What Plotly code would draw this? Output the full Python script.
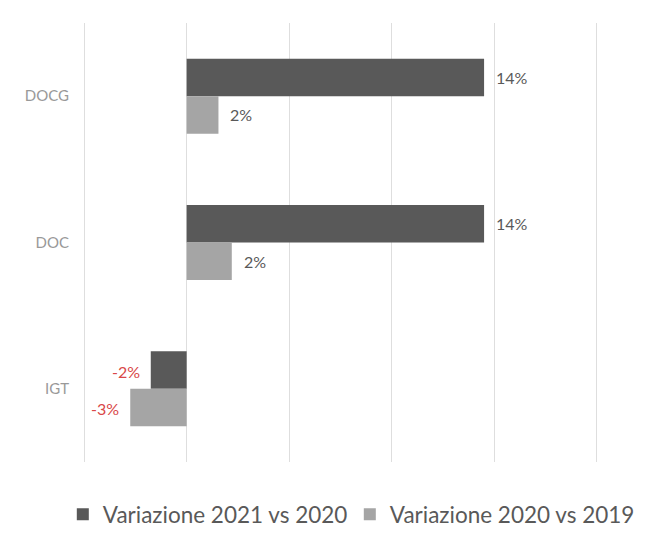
import plotly.graph_objects as go

categories = ["DOCG", "DOC", "IGT"]
series_names = ["Variazione 2021 vs 2020", "Variazione 2020 vs 2019"]
var_2021_vs_2020 = [14.5, 14.5, -1.75]
var_2020_vs_2019 = [1.55, 2.2, -2.75]
labels_2021 = ["14%", "14%", "-2%"]
labels_2020 = ["2%", "2%", "-3%"]

dark = "#595959"
light = "#a5a5a5"
red = "#d94848"
txt = "#595959"

fig = go.Figure()
fig.add_trace(go.Bar(y=categories, x=var_2021_vs_2020, orientation="h",
                     name=series_names[0], marker=dict(color=dark, line=dict(width=0))))
fig.add_trace(go.Bar(y=categories, x=var_2020_vs_2019, orientation="h",
                     name=series_names[1], marker=dict(color=light, line=dict(width=0))))

# value labels
for vals, labs, off in [(var_2021_vs_2020, labels_2021, -0.128), (var_2020_vs_2019, labels_2020, 0.128)]:
    for i, (v, l) in enumerate(zip(vals, labs)):
        neg = v < 0
        fig.add_annotation(x=v, y=i + off, yref="y", xref="x", text=l, showarrow=False,
                           xanchor="right" if neg else "left", xshift=-9 if neg else 10,
                           yshift=-1 if neg else 0,
                           font=dict(family="Lato", size=16, color=red if neg else txt))

fig.update_layout(
    width=645, height=540,
    margin=dict(l=72, r=52, t=15, b=67),
    paper_bgcolor="white", plot_bgcolor="white",
    barmode="group", bargap=0.487, bargroupgap=0,
    font=dict(family="Lato", color=txt),
    showlegend=True,
    legend=dict(orientation="h", x=-0.033, xanchor="left", y=-0.12, yanchor="middle",
                font=dict(family="Lato", size=22.5, color=txt),
                itemwidth=30, tracegroupgap=0, entrywidth=242, entrywidthmode="pixels"),
    xaxis=dict(range=[-5.2, 20.2], dtick=5, tick0=0, showgrid=True, gridcolor="#dedede",
               gridwidth=1, zeroline=False, showticklabels=False, showline=False, ticks=""),
    yaxis=dict(categoryorder="array", categoryarray=categories, autorange="reversed",
               showgrid=False, zeroline=False, showline=False, ticks="",
               tickfont=dict(family="Lato", size=15, color="#999999"), ticklabelstandoff=10),
)

fig.write_html("out.html")
